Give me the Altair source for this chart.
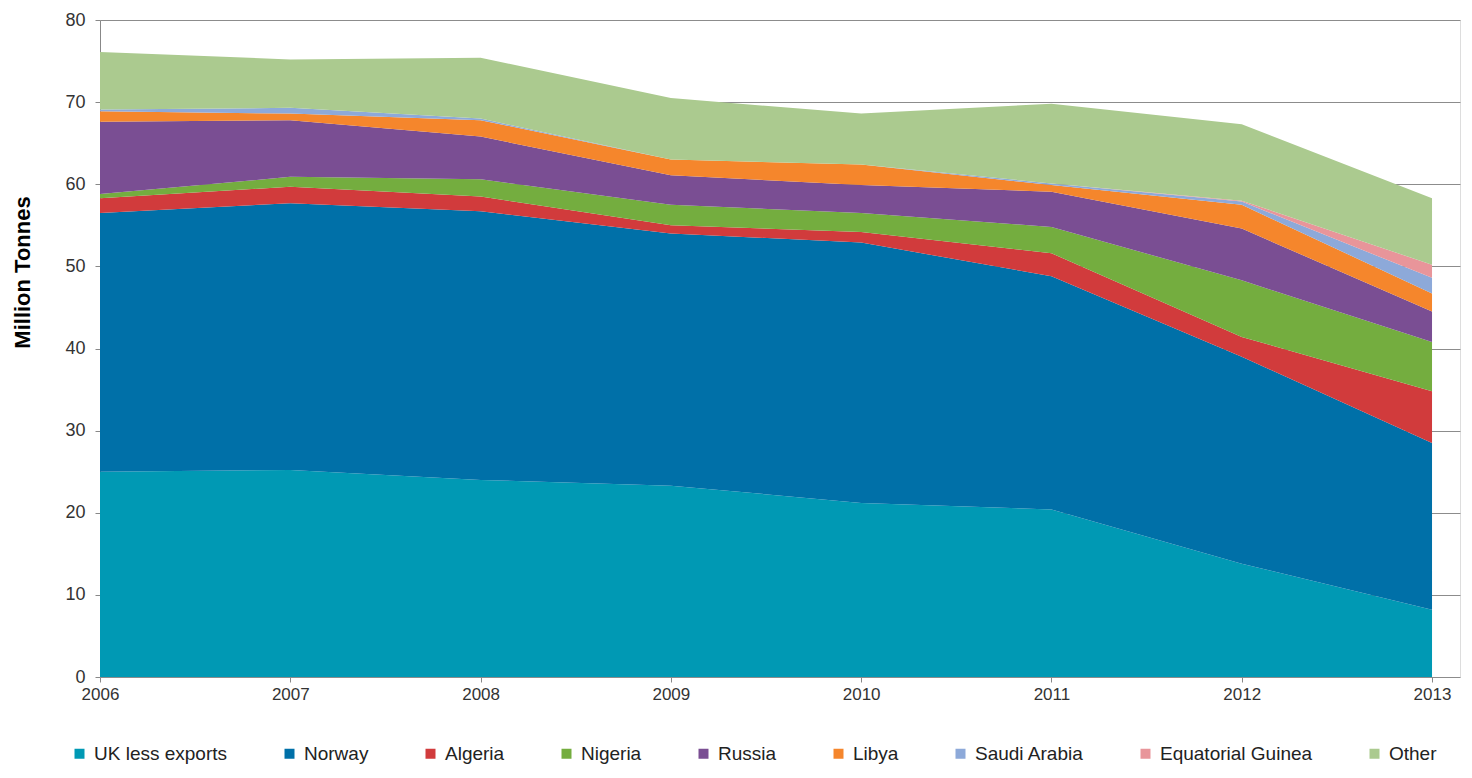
import altair as alt
import pandas as pd

years = [2006, 2007, 2008, 2009, 2010, 2011, 2012, 2013]
series = ["UK less exports", "Norway", "Algeria", "Nigeria", "Russia",
          "Libya", "Saudi Arabia", "Equatorial Guinea", "Other"]
colors = ["#0099B4", "#0070A8", "#D13B3C", "#74AD3F", "#7A4E93",
          "#F5862C", "#8DA9D9", "#E8959A", "#ABCA8F"]

uk = [25.0, 25.2, 24.0, 23.3, 21.2, 20.4, 13.8, 8.2]
norway = [31.5, 32.5, 32.7, 30.7, 31.7, 28.4, 25.2, 20.3]
algeria = [1.8, 2.0, 1.8, 1.0, 1.3, 2.8, 2.4, 6.3]
nigeria = [0.5, 1.2, 2.1, 2.5, 2.3, 3.2, 6.9, 6.0]
russia = [8.8, 6.9, 5.2, 3.6, 3.4, 4.3, 6.3, 3.7]
libya = [1.3, 0.8, 2.0, 1.9, 2.5, 0.8, 2.9, 2.2]
saudi = [0.2, 0.7, 0.2, 0.0, 0.0, 0.2, 0.4, 1.9]
eq_guinea = [0.0, 0.0, 0.0, 0.0, 0.0, 0.0, 0.1, 1.6]
other = [7.0, 5.9, 7.4, 7.5, 6.2, 9.7, 9.3, 8.1]

values = [uk, norway, algeria, nigeria, russia, libya, saudi, eq_guinea, other]

rows = []
for i, (name, vals) in enumerate(zip(series, values)):
    for y, v in zip(years, vals):
        rows.append({"year": y, "series": name, "value": v, "idx": i})
df = pd.DataFrame(rows)

font = "Liberation Sans"

chart = alt.Chart(df).mark_area(interpolate="linear").encode(
    x=alt.X("year:Q",
            scale=alt.Scale(domain=[2006, 2013.147], nice=False, zero=False),
            axis=alt.Axis(values=years, format="d", title=None, grid=False,
                          domain=False, ticks=True, tickSize=5, tickColor="#888888",
                          labelFontSize=17, labelFont=font, labelColor="#333333",
                          labelPadding=4, labelFlush=False)),
    y=alt.Y("value:Q", stack="zero",
            scale=alt.Scale(domain=[0, 80], nice=False),
            axis=alt.Axis(values=[0, 10, 20, 30, 40, 50, 60, 70, 80],
                          title="Million Tonnes", titleFont=font, titleFontSize=22,
                          titleFontWeight="bold", titleColor="#000000",
                          titleAngle=-90, titleX=-78, titleY=252,
                          titleAlign="center", titleBaseline="middle",
                          grid=True, gridColor="#8c8c8c", gridWidth=1,
                          domain=True, domainColor="#888888",
                          tickSize=5, tickColor="#888888",
                          labelFontSize=18, labelFont=font, labelColor="#333333",
                          labelPadding=10)),
    color=alt.Color("series:N",
                    scale=alt.Scale(domain=series, range=colors),
                    sort=series,
                    legend=alt.Legend(title=None, orient="none", direction="horizontal",
                                      columns=9, legendX=-30, legendY=724,
                                      symbolType="square", symbolSize=100,
                                      symbolStrokeWidth=0, labelFont=font,
                                      labelFontSize=19, labelColor="#222222",
                                      labelOffset=5, columnPadding=52,
                                      labelLimit=300)),
    order=alt.Order("idx:Q", sort="ascending"),
).properties(
    width=1360, height=657,
    autosize=alt.AutoSizeParams(type="none"),
    padding={"left": 92, "top": 12, "right": 4, "bottom": 92},
).configure_view(stroke=None).configure(background="white")

chart.save("out.html", embed_options={"renderer": "svg", "actions": False})
